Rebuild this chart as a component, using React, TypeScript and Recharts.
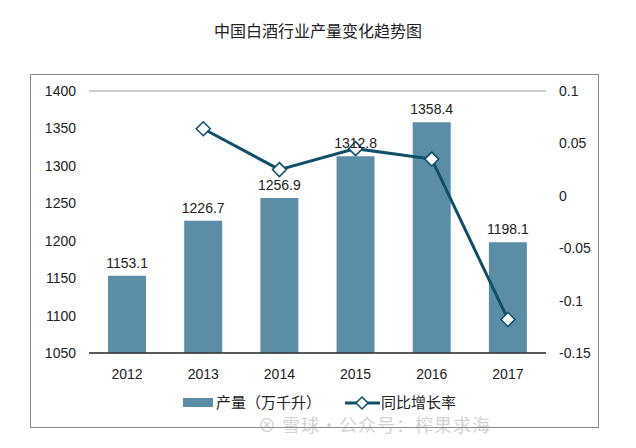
import React from 'react';
import { ComposedChart, Bar, Line, XAxis, YAxis, CartesianGrid, LabelList, Legend } from 'recharts';

const years = ['2012', '2013', '2014', '2015', '2016', '2017'];
const output = [1153.1, 1226.7, 1256.9, 1312.8, 1358.4, 1198.1];
const growth: (number | null)[] = [null, 0.064, 0.025, 0.045, 0.035, -0.118];
const leftTicks = [1050, 1100, 1150, 1200, 1250, 1300, 1350, 1400];
const rightTicks = [-0.15, -0.1, -0.05, 0, 0.05, 0.1];

const data = years.map((y, i) => ({ year: y, output: output[i], growth: growth[i] }));

const BAR = '#5b8ea6';
const LINE = '#0f5068';
const FONT = '"Liberation Sans", Arial, sans-serif';
const CJK = '"Noto Sans CJK SC", sans-serif';

const Diamond = (props: any) => {
  const { cx, cy } = props;
  if (cx == null || cy == null || props.value == null) return null;
  const r = 7;
  return (
    <path
      d={`M${cx},${cy - r}L${cx + r},${cy}L${cx},${cy + r}L${cx - r},${cy}Z`}
      fill="#fff"
      stroke={LINE}
      strokeWidth={1.5}
    />
  );
};

const LegendContent = () => (
  <div style={{ position: 'relative', height: 22, width: 636, fontFamily: CJK, fontSize: 15, color: '#222' }}>
    <div style={{ position: 'absolute', left: 183, top: 6, width: 30, height: 9, background: BAR }} />
    <div style={{ position: 'absolute', left: 216, top: 0, lineHeight: '20px' }}>产量（万千升）</div>
    <svg style={{ position: 'absolute', left: 345, top: 0 }} width={36} height={22}>
      <line x1={0} y1={11} x2={35} y2={11} stroke={LINE} strokeWidth={3} />
      <path d="M17,5L23,11L17,17L11,11Z" fill="#fff" stroke={LINE} strokeWidth={1.5} />
    </svg>
    <div style={{ position: 'absolute', left: 381, top: 0, lineHeight: '20px' }}>同比增长率</div>
  </div>
);

export default function App() {
  return (
    <div style={{ position: 'absolute', left: 0, top: 0, width: 636, height: 448, background: '#fff' }}>
      <div
        style={{
          position: 'absolute',
          left: 30,
          top: 74,
          width: 569,
          height: 354,
          border: '1px solid #8a8a8a',
          boxSizing: 'border-box',
        }}
      />
      <div
        style={{
          position: 'absolute',
          left: 0,
          top: 18,
          width: 636,
          textAlign: 'center',
          fontFamily: CJK,
          fontSize: 16,
          color: '#222',
        }}
      >
        中国白酒行业产量变化趋势图
      </div>
      <div
        style={{
          position: 'absolute',
          left: 258,
          top: 411,
          fontFamily: CJK,
          fontSize: 18,
          color: 'rgba(150,150,150,0.45)',
          letterSpacing: 1,
        }}
      >
        ⊗ 雪球·公众号：榨果求海
      </div>
      <div style={{ position: 'absolute', left: 0, top: 0 }}>
        <ComposedChart
          width={636}
          height={448}
          data={data}
          margin={{ top: 91, right: 0, left: 0, bottom: 0 }}
          barCategoryGap="25%"
        >
          <CartesianGrid vertical={false} stroke="#9a9a9a" strokeWidth={1} />
          <XAxis
            dataKey="year"
            axisLine={{ stroke: '#333', strokeWidth: 1.5 }}
            tickLine={false}
            height={73}
            tickMargin={10}
            tick={{ fontFamily: FONT, fontSize: 14, fill: '#222' }}
          />
          <YAxis
            yAxisId="left"
            width={89}
            domain={[1050, 1400]}
            ticks={leftTicks}
            axisLine={false}
            tickLine={false}
            tickMargin={7}
            tick={{ fontFamily: FONT, fontSize: 14, fill: '#222' }}
          />
          <YAxis
            yAxisId="right"
            orientation="right"
            width={90}
            domain={[-0.15, 0.1]}
            ticks={rightTicks}
            axisLine={false}
            tickLine={false}
            tickMargin={7}
            tick={{ fontFamily: FONT, fontSize: 14, fill: '#222' }}
          />
          <Legend
            content={<LegendContent />}
            wrapperStyle={{ position: 'absolute', top: 392, bottom: 'auto', left: 0, width: 636, height: 22 }}
          />
          <Bar yAxisId="left" dataKey="output" fill={BAR} isAnimationActive={false}>
            <LabelList
              dataKey="output"
              position="top"
              offset={8}
              style={{ fontFamily: FONT, fontSize: 14, fill: '#222' }}
            />
          </Bar>
          <Line
            yAxisId="right"
            dataKey="growth"
            stroke={LINE}
            strokeWidth={3}
            dot={<Diamond />}
            activeDot={false}
            connectNulls={false}
            isAnimationActive={false}
          />
        </ComposedChart>
      </div>
    </div>
  );
}
